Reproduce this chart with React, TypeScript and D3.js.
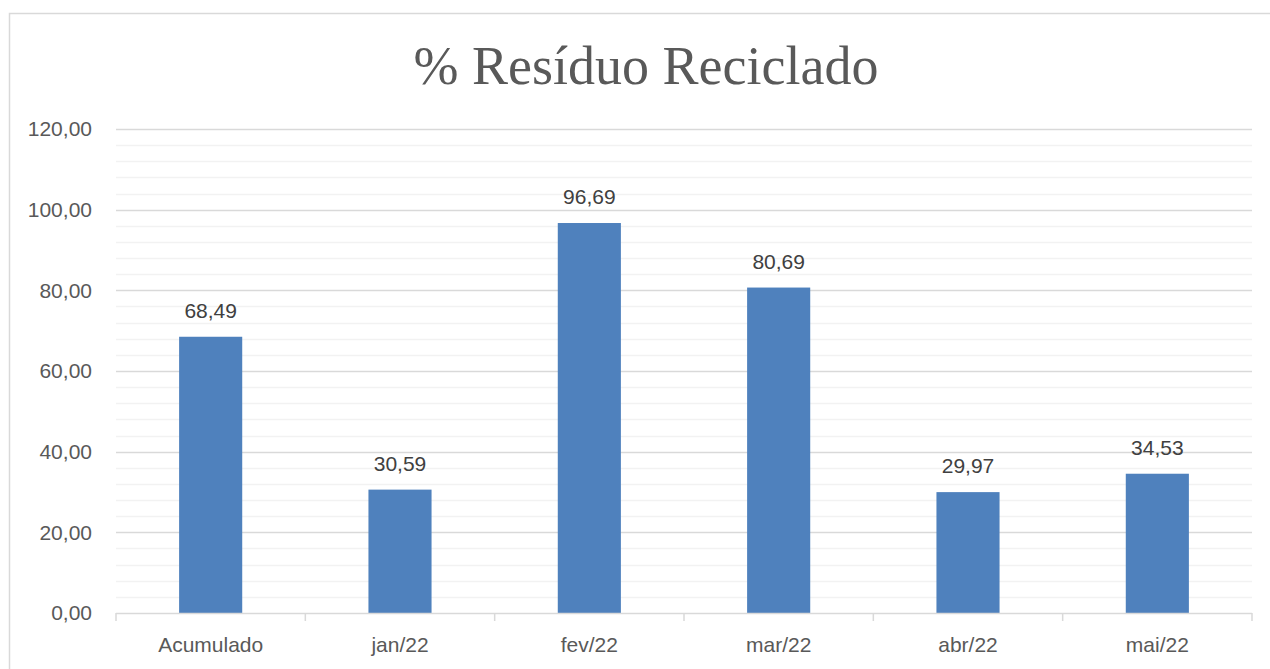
import React, { useEffect, useRef } from 'react';
import * as d3 from 'd3';

// dados do grafico
const categorias = ['Acumulado', 'jan/22', 'fev/22', 'mar/22', 'abr/22', 'mai/22'];
const valores = [68.49, 30.59, 96.69, 80.69, 29.97, 34.53];
const ticksY = [0, 20, 40, 60, 80, 100, 120];
const titulo = '% Resíduo Reciclado';

function App() {
  const ref = useRef<SVGSVGElement>(null);

  useEffect(() => {
    const width = 1270, height = 669;
    const svg = d3.select(ref.current);
    svg.selectAll('*').remove();

    const left = 116, right = 1252, top = 129, bottom = 613;
    const cor = '#595959';
    const fonte = '"Liberation Sans", Arial, sans-serif';

    // moldura
    svg.append('rect').attr('x', 9.5).attr('y', 13.5)
      .attr('width', 1300).attr('height', 700)
      .attr('fill', '#fff').attr('stroke', '#d9d9d9').attr('stroke-width', 1.5);

    const x = d3.scaleBand().domain(categorias).range([left, right]).paddingInner(0).paddingOuter(0);
    const y = d3.scaleLinear().domain([0, 120]).range([bottom, top]);

    // linhas de grade menores
    const menores = d3.range(0, 121, 4).filter(v => v % 20 !== 0);
    svg.append('g').selectAll('line').data(menores).enter().append('line')
      .attr('x1', left).attr('x2', right)
      .attr('y1', d => Math.round(y(d)) + 0.5).attr('y2', d => Math.round(y(d)) + 0.5)
      .attr('stroke', '#f2f2f2').attr('stroke-width', 1.5);

    // linhas de grade principais
    svg.append('g').selectAll('line').data(ticksY.filter(v => v > 0)).enter().append('line')
      .attr('x1', left).attr('x2', right)
      .attr('y1', d => Math.round(y(d)) + 0.5).attr('y2', d => Math.round(y(d)) + 0.5)
      .attr('stroke', '#d9d9d9').attr('stroke-width', 1.5);

    // rotulos eixo y
    const fmt = (v: number) => v.toFixed(2).replace('.', ',');
    svg.append('g').selectAll('text').data(ticksY).enter().append('text')
      .attr('x', 92).attr('y', d => y(d))
      .attr('dy', '0.35em').attr('text-anchor', 'end')
      .attr('fill', cor).style('font-family', fonte).style('font-size', '21px')
      .text(d => fmt(d));

    // barras
    const bw = x.bandwidth() / 3;
    svg.append('g').selectAll('rect').data(valores).enter().append('rect')
      .attr('x', (d, i) => x(categorias[i])! + x.bandwidth() / 2 - bw / 2)
      .attr('y', d => y(d))
      .attr('width', bw)
      .attr('height', d => y(0) - y(d))
      .attr('fill', '#4f81bd');

    // rotulos de dados
    svg.append('g').selectAll('text').data(valores).enter().append('text')
      .attr('x', (d, i) => x(categorias[i])! + x.bandwidth() / 2)
      .attr('y', d => y(d) - 19)
      .attr('text-anchor', 'middle')
      .attr('fill', '#404040').style('font-family', fonte).style('font-size', '21px')
      .text(d => fmt(d));

    // eixo x
    svg.append('line').attr('x1', left).attr('x2', right)
      .attr('y1', bottom + 0.5).attr('y2', bottom + 0.5)
      .attr('stroke', '#d9d9d9').attr('stroke-width', 1.5);
    const bordas = categorias.map(c => x(c)!).concat([right]);
    svg.append('g').selectAll('line').data(bordas).enter().append('line')
      .attr('x1', d => d).attr('x2', d => d)
      .attr('y1', bottom).attr('y2', bottom + 8)
      .attr('stroke', '#d9d9d9').attr('stroke-width', 1.5);

    svg.append('g').selectAll('text').data(categorias).enter().append('text')
      .attr('x', d => x(d)! + x.bandwidth() / 2)
      .attr('y', 652)
      .attr('text-anchor', 'middle')
      .attr('fill', cor).style('font-family', fonte).style('font-size', '21px')
      .text(d => d);

    // titulo
    svg.append('text').attr('x', 646).attr('y', 84)
      .attr('text-anchor', 'middle')
      .attr('fill', cor).style('font-family', '"Liberation Serif", "DejaVu Serif", serif')
      .style('font-size', '54px')
      .text(titulo);

    svg.attr('width', width).attr('height', height);
  }, []);

  return (
    <div style={{ position: 'absolute', left: 0, top: 0 }}>
      <svg ref={ref} width={1270} height={669} style={{ display: 'block' }} />
    </div>
  );
}

export default App;
